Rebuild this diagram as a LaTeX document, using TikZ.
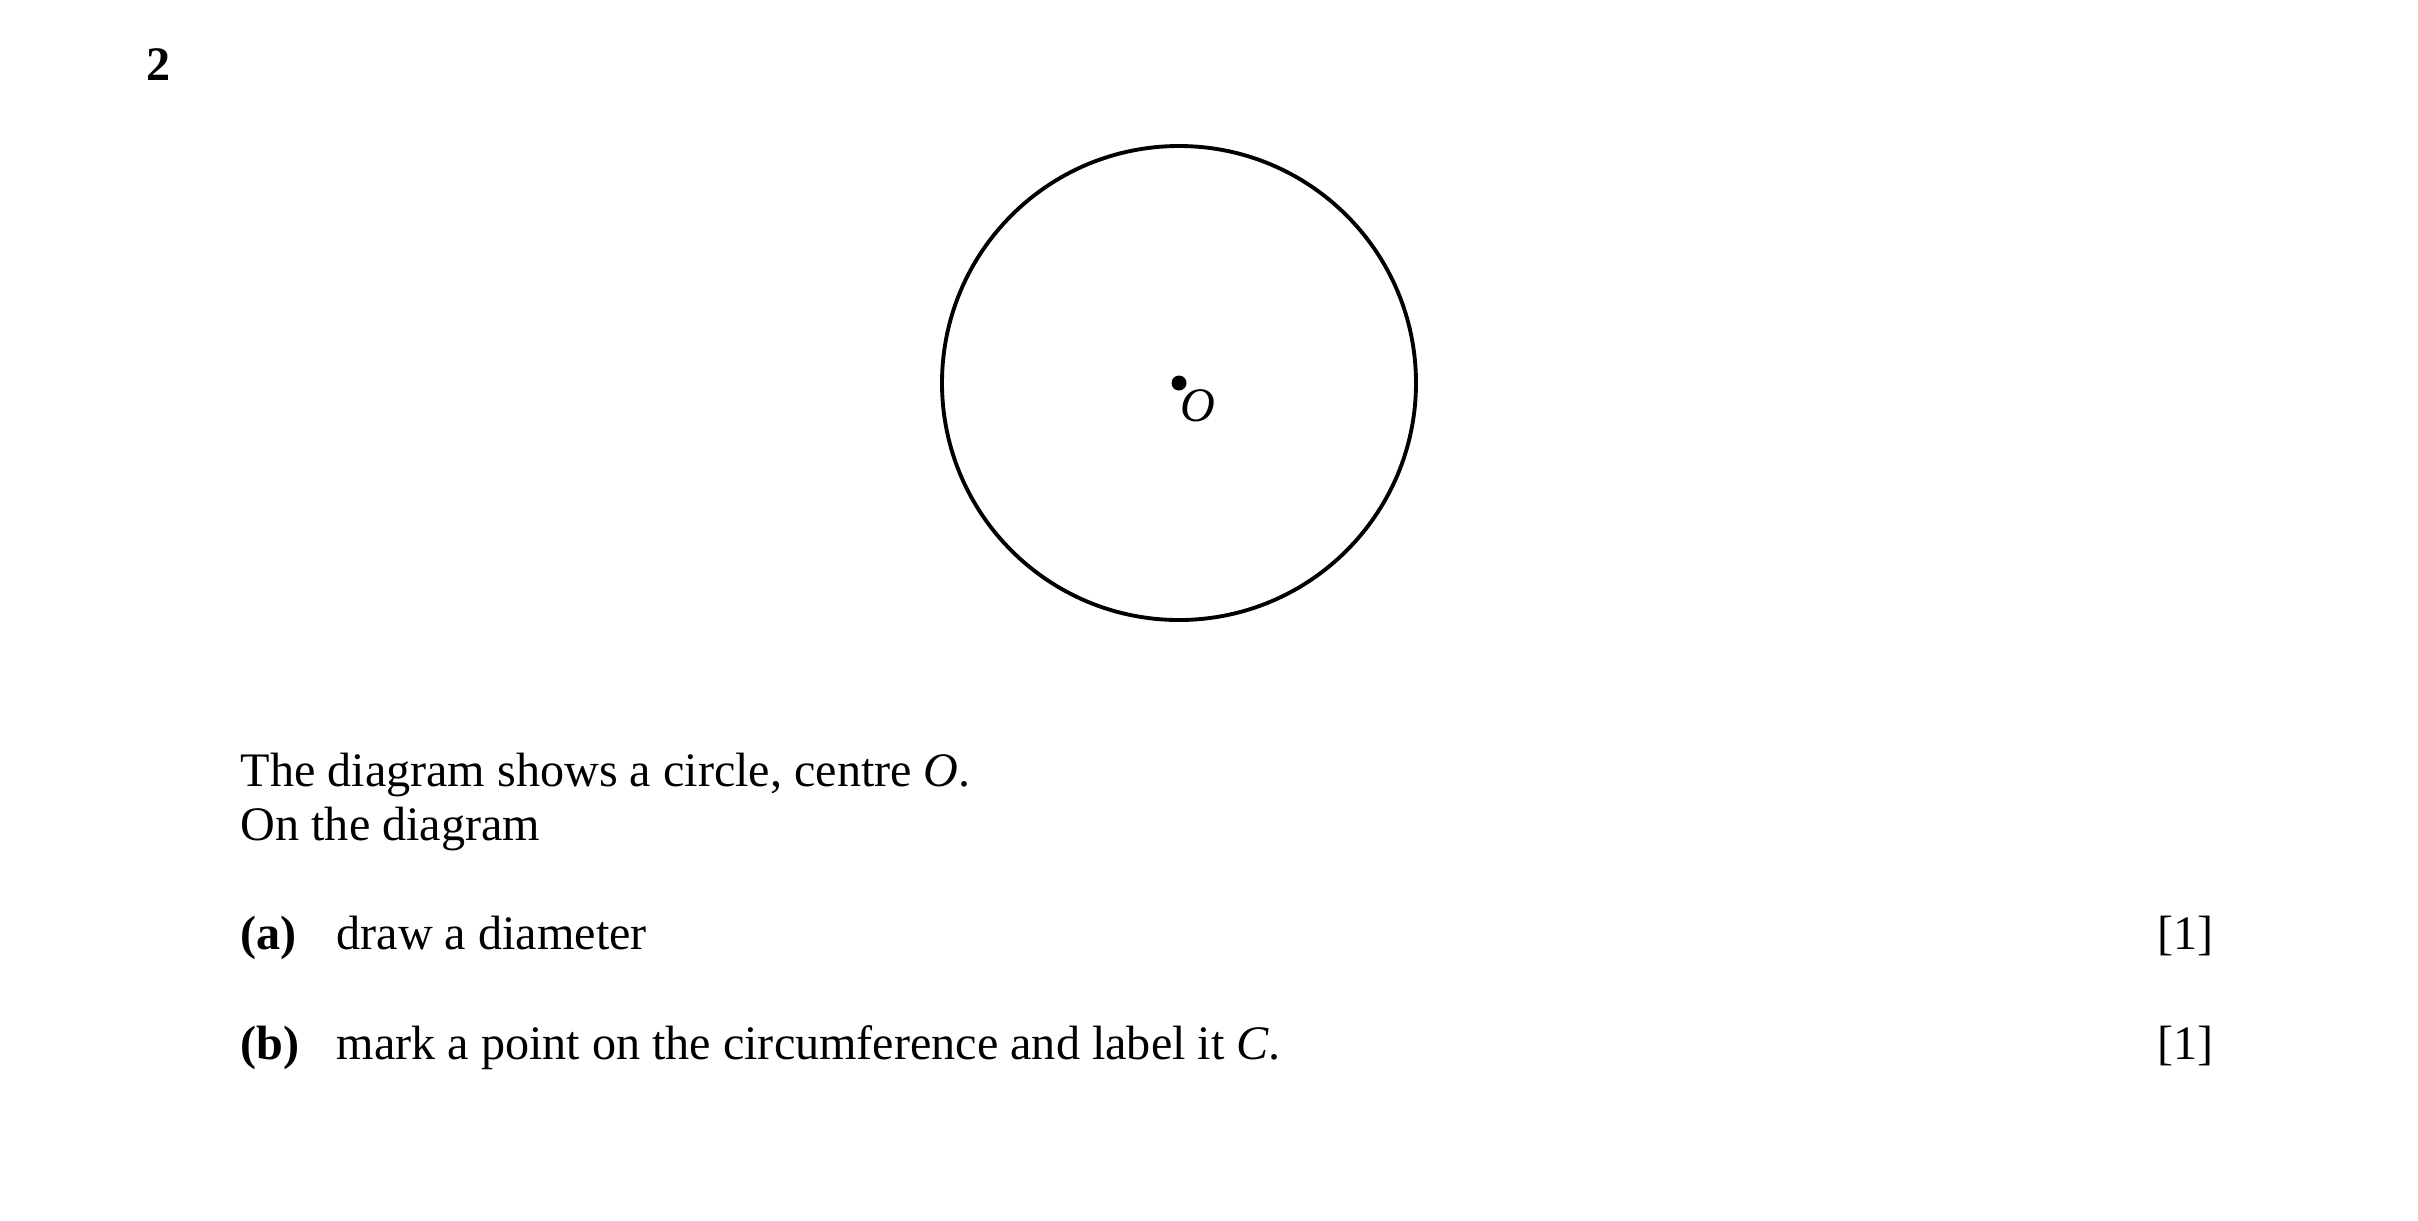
\documentclass[tikz,border=0pt]{standalone}
\usepackage{fontspec}
\setmainfont{Liberation Serif}
\usetikzlibrary{positioning}
\tikzset{
  txt/.style={anchor=base west, inner sep=0pt, font=\fontsize{13.7}{17}\selectfont},
  marks/.style={anchor=base east, inner sep=0pt, font=\fontsize{13.7}{17}\selectfont}
}
\begin{document}
\begin{tikzpicture}
\useasboundingbox (0,0) rectangle (24.18,-12.20);
\node[txt, font=\fontsize{13.7}{17}\selectfont\bfseries] (qnum) at (1.46,-0.80) {2};
\coordinate (O) at (11.79,-3.83);
\draw[line width=1.1pt] (O) circle (2.37);
\fill (O) circle (0.075);
\node[txt] (olab) at (11.80,-4.21) {\textit{O}};
\node[txt] (l1) at (2.40,-7.86) {The diagram shows a circle, centre \textit{O}.};
\node[txt] (l2) at (2.40,-8.40) {On the diagram};
\foreach [count=\i] \p/\t/\y in {(a)/draw a diameter/-9.49, (b)/mark a point on the circumference and label it \textit{C}./-10.59}{
\node[txt, font=\fontsize{13.7}{17}\selectfont\bfseries] (p\i) at (2.40,\y) {\p};
\node[txt] (t\i) at (3.36,\y) {\t};
\node[marks] (m\i) at (22.14,\y) {[1]};
}
\end{tikzpicture}
\end{document}
